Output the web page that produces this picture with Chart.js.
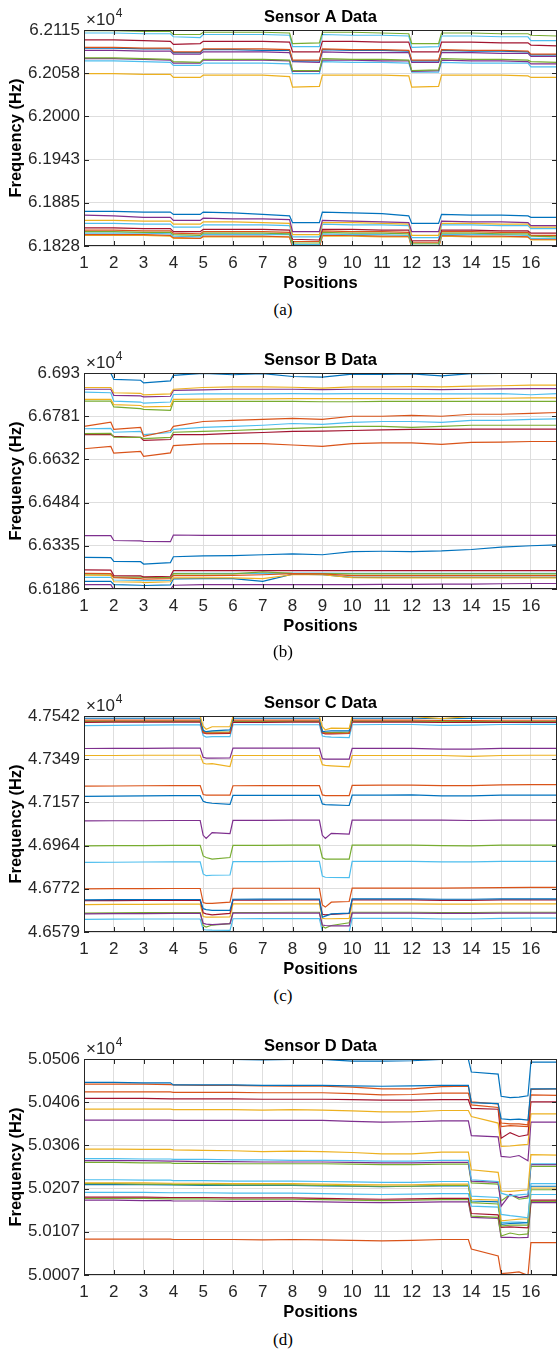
<!DOCTYPE html>
<html>
<head>
<meta charset="utf-8">
<script src="https://cdn.jsdelivr.net/npm/chart.js@4.4.0/dist/chart.umd.min.js"></script>
<style>
  body { margin: 0; background: #fff; width: 558px; height: 1351px; position: relative; overflow: hidden; }
  .panel { position: absolute; left: 0; width: 558px; height: 300px; }
  .caption { position: absolute; left: 0; width: 566px; height: 20px; line-height: 20px; text-align: center;
             font-family: "Liberation Serif", "Times New Roman", serif; font-size: 17px; color: #000; }
</style>
</head>
<body>
<div class="panel" style="top:0px"><canvas id="chartA" width="558" height="300"></canvas></div>
<div class="caption" style="top:300px">(a)</div>
<div class="panel" style="top:343px"><canvas id="chartB" width="558" height="300"></canvas></div>
<div class="caption" style="top:642px">(b)</div>
<div class="panel" style="top:686px"><canvas id="chartC" width="558" height="300"></canvas></div>
<div class="caption" style="top:986px">(c)</div>
<div class="panel" style="top:1029px"><canvas id="chartD" width="558" height="300"></canvas></div>
<div class="caption" style="top:1330px">(d)</div>

<script>
// MATLAB default line colours
const colours = ["#0072BD", "#D95319", "#EDB120", "#7E2F8E", "#77AC30", "#4DBEEE", "#A2142F"];
const xTickValues = [1, 2, 3, 4, 5, 6, 7, 8, 9, 10, 11, 12, 13, 14, 15, 16];

// ---------- Sensor A ----------
const sensorAX = [1, 2, 3, 3.9, 4, 4.9, 5, 6, 7, 7.9, 8, 8.9, 9, 10, 11, 11.9, 12, 12.9, 13, 14, 15, 15.9, 16, 16.875];
const sensorARange = [61828, 62115];
const sensorATicks = ["6.1828", "6.1885", "6.1943", "6.2000", "6.2058", "6.2115"];
const sensorAColours = [4, 5, 6, 1, 0, 3, 4, 3, 5, 2, 0, 3, 2, 5, 6, 4, 5, 1, 2, 1];
const sensorASeries = [
  [62114,62114,62113,62113,62109,62109,62112,62112,62112,62111,62097,62098,62112,62112,62111,62110,62097,62097,62111,62111,62110,62110,62108,62107],
  [62111,62111,62110,62110,62106,62105,62109,62109,62109,62108,62093,62093,62109,62108,62108,62107,62092,62093,62107,62107,62106,62106,62101,62101],
  [62102,62102,62101,62100,62096,62097,62100,62100,62100,62099,62086,62086,62100,62100,62099,62099,62086,62086,62099,62099,62098,62098,62095,62094],
  [62092,62092,62091,62091,62086,62086,62090,62090,62090,62089,62075,62075,62090,62089,62089,62088,62075,62075,62089,62088,62088,62087,62083,62083],
  [62091,62091,62090,62090,62085,62085,62089,62089,62088,62088,62074,62074,62089,62088,62088,62087,62074,62074,62088,62087,62087,62086,62082,62082],
  [62088,62088,62087,62087,62083,62083,62086,62086,62086,62085,62073,62072,62086,62085,62085,62085,62072,62072,62085,62085,62084,62084,62080,62080],
  [62078,62078,62077,62076,62073,62072,62076,62076,62076,62075,62061,62061,62077,62076,62076,62075,62061,62062,62077,62076,62076,62075,62073,62072],
  [62077,62077,62076,62075,62071,62071,62075,62075,62075,62074,62060,62060,62075,62075,62074,62074,62060,62061,62075,62074,62074,62073,62070,62070],
  [62074,62074,62073,62072,62068,62068,62071,62071,62071,62070,62057,62057,62073,62072,62072,62071,62059,62059,62072,62071,62071,62071,62066,62066],
  [62057,62057,62056,62056,62052,62052,62055,62055,62055,62053,62039,62040,62055,62055,62055,62054,62039,62040,62055,62055,62055,62054,62052,62052],
  [61874,61874,61873,61873,61870,61870,61873,61872,61870,61868,61859,61859,61873,61872,61871,61868,61858,61858,61870,61869,61869,61868,61866,61866],
  [61869,61868,61866,61866,61862,61862,61865,61864,61864,61863,61847,61847,61862,61861,61860,61859,61847,61847,61861,61860,61860,61859,61855,61855],
  [61862,61862,61861,61861,61857,61857,61860,61860,61859,61858,61843,61843,61859,61859,61858,61857,61842,61842,61858,61858,61857,61857,61853,61853],
  [61858,61858,61857,61857,61853,61853,61856,61856,61856,61855,61840,61840,61857,61856,61856,61855,61839,61839,61856,61856,61855,61855,61851,61851],
  [61852,61852,61851,61851,61847,61847,61850,61850,61850,61849,61837,61836,61850,61850,61849,61849,61835,61835,61849,61849,61848,61848,61845,61845],
  [61847,61847,61846,61846,61843,61842,61845,61845,61845,61844,61832,61832,61846,61845,61845,61844,61831,61831,61845,61845,61844,61844,61841,61840],
  [61845,61845,61845,61844,61841,61840,61843,61843,61843,61843,61830,61830,61844,61843,61843,61842,61829,61829,61843,61843,61843,61842,61838,61838],
  [61843,61843,61843,61842,61839,61838,61841,61841,61841,61840,61826,61826,61842,61842,61841,61841,61826,61826,61842,61841,61841,61840,61837,61837],
  [61842,61842,61842,61841,61838,61838,61840,61840,61840,61840,61827,61827,61841,61841,61840,61840,61825,61825,61841,61840,61840,61840,61836,61836],
  [61849,61849,61848,61848,61845,61844,61847,61847,61847,61846,61834,61834,61848,61847,61847,61846,61833,61833,61847,61847,61846,61846,61842,61842],
];

// ---------- Sensor B ----------
const sensorBX = [1, 1.9, 2, 2.9, 3, 3.9, 4, 5, 6, 7, 8, 9, 10, 11, 12, 13, 14, 15, 16, 16.875];
const sensorBRange = [66186, 66930];
const sensorBTicks = ["6.6186", "6.6335", "6.6484", "6.6632", "6.6781", "6.693"];
const sensorBColours = [0, 2, 3, 5, 2, 4, 1, 5, 4, 6, 1, 3, 0, 6, 1, 4, 2, 5, 0, 3];
const sensorBSeries = [
  [66929,66929,66908,66905,66896,66903,66922,66929,66924,66928,66918,66916,66926,66925,66927,66920,66928,66929,66929,66929],
  [66880,66880,66862,66860,66855,66858,66874,66880,66882,66882,66881,66878,66882,66882,66883,66882,66885,66886,66888,66888],
  [66874,66874,66853,66851,66848,66850,66870,66872,66874,66874,66874,66873,66874,66874,66874,66873,66874,66875,66876,66876],
  [66864,66862,66833,66830,66826,66830,66856,66858,66858,66858,66859,66858,66859,66859,66858,66858,66858,66859,66855,66859],
  [66839,66839,66821,66818,66813,66815,66839,66840,66841,66841,66842,66842,66842,66842,66842,66842,66843,66843,66844,66844],
  [66833,66833,66813,66807,66805,66801,66832,66832,66832,66832,66832,66831,66831,66832,66832,66832,66832,66832,66832,66832],
  [66746,66761,66736,66743,66712,66732,66746,66763,66767,66770,66774,66770,66781,66781,66784,66781,66788,66788,66791,66794],
  [66738,66739,66726,66729,66718,66725,66736,66743,66746,66750,66756,66753,66760,66763,66763,66760,66767,66767,66770,66772],
  [66721,66722,66709,66708,66704,66708,66726,66729,66732,66736,66739,66743,66746,66746,66743,66746,66750,66750,66750,66750],
  [66718,66718,66712,66708,66698,66701,66718,66718,66722,66725,66729,66730,66732,66734,66736,66736,66737,66737,66737,66737],
  [66669,66677,66654,66660,66643,66655,66680,66686,66687,66687,66682,66677,66687,66689,66689,66684,66691,66692,66694,66694],
  [66370,66370,66353,66352,66350,66349,66372,66371,66371,66371,66371,66371,66371,66371,66371,66371,66371,66371,66371,66371],
  [66295,66294,66281,66280,66272,66277,66297,66300,66301,66304,66307,66304,66315,66316,66315,66317,66322,66330,66335,66338],
  [66252,66251,66232,66231,66228,66230,66249,66249,66249,66249,66249,66249,66249,66249,66249,66249,66249,66249,66249,66249],
  [66240,66239,66225,66222,66220,66222,66232,66232,66233,66235,66239,66238,66232,66232,66232,66232,66232,66232,66232,66232],
  [66238,66238,66227,66227,66226,66225,66239,66238,66238,66245,66240,66239,66238,66238,66238,66238,66238,66238,66238,66238],
  [66234,66233,66211,66210,66208,66211,66224,66224,66224,66222,66235,66235,66225,66224,66224,66224,66224,66224,66224,66224],
  [66226,66226,66217,66216,66215,66216,66240,66240,66240,66240,66241,66241,66240,66240,66240,66240,66240,66240,66240,66240],
  [66212,66212,66201,66199,66198,66200,66221,66222,66222,66212,66237,66235,66226,66226,66226,66226,66226,66226,66226,66226],
  [66201,66201,66184,66184,66182,66184,66199,66201,66201,66201,66201,66201,66201,66202,66202,66203,66203,66204,66205,66205],
];

// ---------- Sensor C ----------
const sensorCX = [1, 2, 3, 4, 4.9, 5, 5.1, 5.3, 5.9, 6, 7, 8, 8.9, 9, 9.1, 9.3, 9.9, 10, 11, 12, 13, 14, 15, 16, 16.875];
const sensorCRange = [46579, 47542];
const sensorCTicks = ["4.6579", "4.6772", "4.6964", "4.7157", "4.7349", "4.7542"];
const sensorCColours = [2, 0, 1, 6, 5, 4, 3, 2, 1, 0, 3, 4, 5, 1, 0, 6, 2, 3, 4, 5];
const sensorCSeries = [
  [47541,47541,47541,47541,47541,47497,47483,47494,47495,47540,47540,47541,47541,47494,47480,47488,47487,47540,47540,47540,47530,47540,47541,47541,47541],
  [47532,47532,47532,47532,47532,47478,47472,47476,47480,47532,47532,47532,47532,47472,47474,47476,47476,47532,47532,47532,47530,47531,47532,47532,47532],
  [47524,47524,47524,47524,47524,47470,47466,47466,47468,47524,47524,47524,47524,47468,47465,47465,47466,47524,47524,47524,47522,47522,47523,47523,47523],
  [47514,47515,47515,47515,47515,47467,47463,47463,47464,47514,47514,47515,47515,47466,47462,47462,47464,47515,47515,47515,47513,47514,47514,47514,47514],
  [47499,47500,47501,47502,47502,47455,47448,47450,47450,47503,47503,47503,47503,47453,47450,47448,47446,47503,47504,47504,47500,47501,47504,47505,47505],
  [47518,47518,47518,47518,47518,47474,47470,47470,47471,47518,47518,47518,47518,47474,47468,47468,47470,47518,47518,47518,47517,47517,47517,47517,47517],
  [47397,47398,47398,47399,47399,47358,47354,47354,47355,47399,47399,47399,47399,47352,47350,47350,47350,47398,47398,47398,47394,47394,47398,47398,47398],
  [47366,47366,47367,47367,47367,47332,47328,47330,47317,47366,47366,47366,47366,47325,47322,47320,47315,47366,47366,47366,47366,47362,47366,47367,47367],
  [47229,47230,47231,47232,47232,47192,47189,47189,47189,47231,47232,47232,47232,47190,47187,47187,47187,47233,47234,47234,47232,47232,47235,47236,47236],
  [47184,47185,47186,47187,47187,47162,47157,47153,47148,47188,47188,47188,47188,47150,47147,47146,47143,47189,47189,47190,47186,47186,47189,47189,47189],
  [47074,47075,47075,47076,47076,47010,46996,47022,47018,47077,47077,47078,47078,47010,46996,47019,47015,47078,47078,47078,47078,47076,47078,47078,47078],
  [46963,46964,46964,46965,46965,46918,46911,46904,46911,46965,46965,46966,46966,46910,46904,46904,46904,46966,46966,46966,46964,46963,46966,46966,46966],
  [46889,46890,46891,46892,46892,46838,46830,46832,46833,46893,46893,46894,46894,46828,46823,46822,46821,46894,46894,46894,46892,46892,46894,46894,46894],
  [46771,46772,46772,46773,46773,46710,46707,46707,46712,46774,46774,46774,46774,46700,46690,46712,46715,46775,46775,46775,46775,46776,46777,46778,46778],
  [46722,46723,46724,46724,46724,46683,46679,46675,46675,46725,46726,46726,46726,46645,46650,46660,46663,46727,46727,46727,46725,46725,46727,46727,46727],
  [46719,46719,46720,46720,46720,46665,46660,46655,46662,46721,46721,46722,46722,46658,46655,46658,46662,46722,46722,46722,46720,46720,46722,46722,46722],
  [46701,46702,46702,46703,46703,46648,46645,46645,46646,46704,46704,46704,46704,46640,46638,46638,46640,46704,46704,46704,46703,46703,46704,46704,46704],
  [46660,46661,46661,46662,46662,46618,46614,46612,46616,46663,46663,46663,46663,46610,46608,46606,46606,46663,46663,46663,46662,46662,46663,46663,46663],
  [46663,46664,46665,46665,46665,46608,46601,46610,46616,46666,46666,46667,46667,46605,46597,46608,46620,46667,46667,46667,46666,46666,46667,46667,46667],
  [46635,46636,46637,46637,46637,46590,46588,46587,46586,46638,46639,46639,46639,46582,46580,46580,46580,46640,46640,46640,46637,46637,46640,46641,46641],
];

// ---------- Sensor D ----------
const sensorDX = [1, 2, 3, 3.9, 4, 5, 6, 7, 8, 9, 10, 11, 12, 13, 13.9, 14, 14.9, 15, 15.3, 15.6, 15.9, 16, 16.875];
const sensorDRange = [50007, 50506];
const sensorDTicks = ["5.0007", "5.0107", "5.0207", "5.0306", "5.0406", "5.0506"];
const sensorDColours = [0, 0, 1, 1, 6, 2, 3, 2, 5, 3, 4, 5, 2, 4, 0, 5, 6, 4, 3, 1];
const sensorDSeries = [
  [50505,50505,50505,50505,50505,50505,50505,50504,50505,50505,50501,50501,50502,50505,50505,50476,50471,50420,50417,50418,50421,50499,50499],
  [50452,50452,50451,50451,50446,50446,50446,50445,50445,50445,50444,50443,50444,50445,50445,50405,50403,50368,50366,50367,50365,50437,50437],
  [50448,50448,50448,50447,50446,50445,50445,50444,50443,50443,50441,50437,50437,50442,50443,50407,50402,50358,50356,50356,50354,50436,50437],
  [50430,50430,50430,50430,50429,50429,50429,50428,50428,50428,50426,50423,50424,50427,50427,50400,50394,50350,50352,50351,50350,50423,50422],
  [50415,50415,50415,50414,50414,50414,50414,50413,50413,50413,50412,50411,50411,50412,50412,50392,50390,50323,50336,50327,50331,50407,50407],
  [50390,50390,50390,50390,50389,50389,50389,50388,50389,50388,50386,50384,50384,50387,50387,50373,50358,50304,50305,50307,50309,50379,50379],
  [50365,50365,50365,50365,50364,50364,50364,50364,50364,50364,50362,50360,50361,50363,50363,50329,50326,50281,50279,50283,50271,50360,50360],
  [50298,50298,50297,50297,50296,50295,50294,50292,50293,50292,50290,50287,50287,50291,50291,50250,50244,50201,50200,50202,50204,50285,50284],
  [50276,50276,50275,50275,50274,50274,50273,50273,50272,50272,50271,50270,50270,50272,50272,50227,50223,50196,50190,50192,50194,50264,50264],
  [50271,50271,50271,50270,50270,50269,50269,50268,50268,50268,50267,50266,50266,50267,50267,50224,50221,50166,50193,50186,50189,50262,50262],
  [50267,50267,50266,50266,50265,50265,50264,50264,50264,50264,50263,50262,50262,50263,50263,50220,50217,50178,50193,50182,50185,50258,50258],
  [50227,50227,50226,50226,50225,50225,50224,50224,50224,50223,50222,50221,50221,50223,50223,50189,50186,50147,50144,50142,50139,50218,50218],
  [50220,50220,50220,50219,50219,50219,50218,50218,50218,50217,50216,50215,50215,50217,50217,50182,50180,50132,50134,50136,50137,50208,50208],
  [50218,50218,50217,50217,50216,50216,50215,50215,50215,50214,50213,50212,50212,50214,50214,50174,50171,50120,50122,50122,50122,50204,50204],
  [50216,50216,50216,50215,50215,50214,50214,50214,50214,50213,50212,50211,50212,50213,50213,50178,50176,50124,50126,50127,50128,50212,50212],
  [50198,50198,50198,50197,50197,50197,50196,50196,50196,50195,50194,50193,50194,50195,50195,50166,50164,50128,50129,50129,50128,50193,50193],
  [50187,50187,50187,50186,50186,50186,50185,50185,50185,50184,50183,50182,50183,50184,50184,50149,50146,50117,50118,50117,50116,50180,50180],
  [50184,50184,50184,50183,50183,50183,50182,50182,50182,50181,50180,50179,50180,50181,50181,50143,50140,50097,50104,50100,50102,50177,50177],
  [50180,50180,50179,50179,50178,50178,50177,50177,50177,50176,50175,50174,50175,50176,50176,50140,50138,50094,50094,50093,50094,50174,50174],
  [50090,50090,50090,50090,50089,50089,50089,50088,50089,50088,50087,50086,50087,50089,50089,50067,50051,50010,50012,50014,50006,50082,50082],
];

const textColour = "#262626";
const tickFont = { family: "'Liberation Sans', Arial, sans-serif", size: 17 };
const boldFont = { family: "'Liberation Sans', Arial, sans-serif", size: 16.5, weight: "bold" };

// draws the axes box, inward ticks, title and the x10^4 multiplier
const framePlugin = {
  id: "frame",
  afterDatasetsDraw(chart) {
    const { ctx, chartArea: a, scales } = chart;
    ctx.save();
    ctx.strokeStyle = textColour;
    ctx.lineWidth = 1;
    ctx.strokeRect(a.left + 0.5, a.top + 0.5, a.right - a.left - 1, a.bottom - a.top - 1);
    ctx.beginPath();
    scales.x.ticks.forEach((t) => {
      const px = Math.round(scales.x.getPixelForValue(t.value)) + 0.5;
      ctx.moveTo(px, a.bottom); ctx.lineTo(px, a.bottom - 5);
      ctx.moveTo(px, a.top); ctx.lineTo(px, a.top + 5);
    });
    scales.y.ticks.forEach((t) => {
      const py = Math.round(scales.y.getPixelForValue(t.value)) + 0.5;
      ctx.moveTo(a.left, py); ctx.lineTo(a.left + 5, py);
      ctx.moveTo(a.right, py); ctx.lineTo(a.right - 5, py);
    });
    ctx.stroke();
    ctx.restore();
  },
  afterDraw(chart, args, opts) {
    const { ctx, chartArea: a } = chart;
    ctx.save();
    ctx.fillStyle = "#000";
    ctx.font = "bold 16.5px 'Liberation Sans', Arial, sans-serif";
    ctx.textAlign = "center";
    ctx.textBaseline = "middle";
    ctx.fillText(opts.title, (a.left + a.right) / 2, a.top - 12.5);
    // exponent label
    ctx.fillStyle = textColour;
    ctx.textAlign = "left";
    ctx.textBaseline = "alphabetic";
    ctx.font = "17px 'Liberation Sans', Arial, sans-serif";
    ctx.fillText("\u00d710", a.left + 2, a.top - 5);
    const w = ctx.measureText("\u00d710").width;
    ctx.font = "12px 'Liberation Sans', Arial, sans-serif";
    ctx.fillText("4", a.left + 2 + w + 1, a.top - 13);
    ctx.restore();
  },
};

function makeSensorChart(canvasId, title, xs, series, colourIdx, range, yLabels) {
  const datasets = series.map((vals, i) => ({
    data: vals.map((v, j) => ({ x: xs[j], y: v })),
    borderColor: colours[colourIdx[i]],
    borderWidth: 1.2,
    pointRadius: 0,
    fill: false,
    tension: 0,
  }));

  const ctx = document.getElementById(canvasId).getContext("2d");
  return new Chart(ctx, {
    type: "line",
    data: { datasets },
    options: {
      responsive: false,
      animation: false,
      devicePixelRatio: 1,
      layout: { padding: { top: 30, right: 1, left: 0, bottom: 0 } },
      plugins: {
        legend: { display: false },
        tooltip: { enabled: false },
        frame: { title: title },
      },
      scales: {
        x: {
          type: "linear",
          min: 1,
          max: 16.875,
          afterBuildTicks: (scale) => {
            scale.ticks = xTickValues.map((v) => ({ value: v }));
          },
          afterFit: (scale) => { scale.height = 54; },
          ticks: { autoSkip: false, maxRotation: 0, padding: 7, color: textColour, font: tickFont },
          grid: { color: "#dedede", drawTicks: false },
          border: { display: false },
          title: { display: true, text: "Positions", color: "#000", font: boldFont, padding: { top: 0, bottom: 7 } },
        },
        y: {
          min: range[0],
          max: range[1],
          afterBuildTicks: (scale) => {
            const step = (range[1] - range[0]) / (yLabels.length - 1);
            scale.ticks = yLabels.map((_, k) => ({ value: range[0] + k * step }));
          },
          afterFit: (scale) => { scale.width = 84; },
          ticks: {
            autoSkip: false,
            padding: 4,
            color: textColour,
            font: tickFont,
            callback: (value, index) => yLabels[index],
          },
          grid: { color: "#dedede", drawTicks: false },
          border: { display: false },
          title: { display: true, text: "Frequency (Hz)", color: "#000", font: boldFont, padding: { top: 7, bottom: 0 } },
        },
      },
    },
    plugins: [framePlugin],
  });
}

makeSensorChart("chartA", "Sensor A Data", sensorAX, sensorASeries, sensorAColours, sensorARange, sensorATicks);
makeSensorChart("chartB", "Sensor B Data", sensorBX, sensorBSeries, sensorBColours, sensorBRange, sensorBTicks);
makeSensorChart("chartC", "Sensor C Data", sensorCX, sensorCSeries, sensorCColours, sensorCRange, sensorCTicks);
makeSensorChart("chartD", "Sensor D Data", sensorDX, sensorDSeries, sensorDColours, sensorDRange, sensorDTicks);
</script>
</body>
</html>
